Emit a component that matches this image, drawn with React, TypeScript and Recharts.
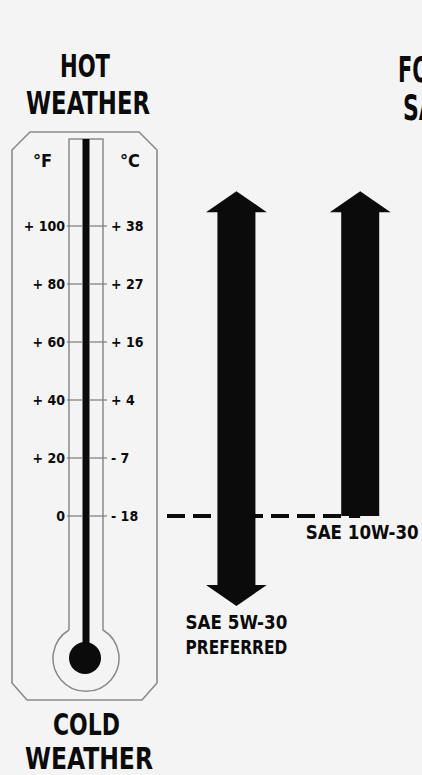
import React from "react";
import {
  ComposedChart,
  Bar,
  XAxis,
  YAxis,
  ReferenceLine,
  LabelList,
  Customized,
} from "recharts";

// oil grades, drawn as arrows over the temperature range they cover (°F)
const grades = ["SAE 5W-30", "SAE 10W-30"];
const gradePositions = [1, 2];
const lowTempsF = [-31, 0];
const highTempsF = [112, 112];
const pointsDown = [true, false];
const gradeNotes = ["PREFERRED", ""];

// thermometer scale
const fahrenheitTicks = [100, 80, 60, 40, 20, 0];
const celsiusLabels = ["+ 38", "+ 27", "+ 16", "+ 4", "- 7", "- 18"];
const cutoffTempF = 0;

const tempDomain = [-60, 140];
const xDomain = [0.44, 2.5];

const FONT =
  "'Liberation Sans Narrow', 'DejaVu Sans Condensed', 'Liberation Sans', Arial, sans-serif";
const INK = "#0b0b0b";
const FRAME = "#8a8a8a";

const data = grades.map((g, i) => ({
  grade: g,
  pos: gradePositions[i],
  range: [lowTempsF[i], highTempsF[i]],
  down: pointsDown[i],
  note: gradeNotes[i],
}));

function Arrow(props: any) {
  const { x, y, width, height, payload } = props;
  const top = Math.min(y, y + height);
  const bottom = Math.max(y, y + height);
  const cx = x + width / 2;
  const sw = width / 2;
  const hw = width * 0.8;
  const hl = 21;
  const pts: number[][] = [
    [cx, top],
    [cx + hw, top + hl],
    [cx + sw, top + hl],
  ];
  if (payload.down) {
    pts.push(
      [cx + sw, bottom - hl],
      [cx + hw, bottom - hl],
      [cx, bottom],
      [cx - hw, bottom - hl],
      [cx - sw, bottom - hl]
    );
  } else {
    pts.push([cx + sw, bottom], [cx - sw, bottom]);
  }
  pts.push([cx - sw, top + hl], [cx - hw, top + hl]);
  return <polygon points={pts.map((p) => p.join(",")).join(" ")} fill={INK} />;
}

const renderGradeLabel = (props: any) => {
  const { x, y, width, height, index } = props;
  const bottom = Math.max(y, y + height);
  const cx = x + width / 2 + (index === 1 ? 2 : 0);
  const lines = [grades[index], gradeNotes[index]].filter(Boolean);
  return (
    <g>
      {lines.map((t, k) => (
        <text
          key={t}
          x={cx}
          y={bottom + 23 + k * 25}
          textAnchor="middle"
          fontFamily={FONT}
          fontWeight="bold"
          fontSize={19}
          fill={INK}
          textLength={t.length * 11.3}
          lengthAdjust="spacingAndGlyphs"
        >
          {t}
        </text>
      ))}
    </g>
  );
};

const ThermoTick = (props: any) => {
  const { y, payload } = props;
  const f = payload.value;
  const i = fahrenheitTicks.indexOf(f);
  const fLabel = f === 0 ? "0" : `+ ${f}`;
  return (
    <g fontFamily={FONT} fontWeight="bold" fontSize={14} fill={INK}>
      <line x1={67} x2={83} y1={y} y2={y} stroke="#7a7a7a" strokeWidth={1.2} />
      <line x1={89} x2={107} y1={y} y2={y} stroke="#7a7a7a" strokeWidth={1.2} />
      <text x={65} y={y + 5} textAnchor="end">
        {fLabel}
      </text>
      <text x={111} y={y + 5} textAnchor="start">
        {celsiusLabels[i]}
      </text>
    </g>
  );
};

const Heading = ({ x, y, text, len, size = 32 }: any) => (
  <text
    x={x}
    y={y}
    textAnchor="middle"
    fontFamily={FONT}
    fontWeight="bold"
    fontSize={size}
    fill={INK}
    textLength={len}
    lengthAdjust="spacingAndGlyphs"
  >
    {text}
  </text>
);

const Thermometer = () => (
  <g>
    <Heading x={85} y={77} text="HOT" len={50} />
    <Heading x={88} y={114} text="WEATHER" len={124} />
    <Heading x={86.5} y={735} text="COLD" len={67} size={31} />
    <Heading x={89} y={769} text="WEATHER" len={128} size={31} />
    <text
      x={398}
      y={82}
      fontFamily={FONT}
      fontWeight="bold"
      fontSize={36}
      fill={INK}
      textLength={48}
      lengthAdjust="spacingAndGlyphs"
    >
      FOR
    </text>
    <text
      x={403}
      y={120}
      fontFamily={FONT}
      fontWeight="bold"
      fontSize={36}
      fill={INK}
      textLength={48}
      lengthAdjust="spacingAndGlyphs"
    >
      SAE
    </text>
    <polygon
      points="30,132 139,132 157,150 157,683 142,700 27,700 12,683 12,150"
      fill="none"
      stroke={FRAME}
      strokeWidth={1.6}
    />
    <path
      d="M69,630 L69,139 L103,139 L103,630 A33,33 0 1 1 69,630"
      fill="none"
      stroke={FRAME}
      strokeWidth={1.5}
    />
    <rect x={82.5} y={139} width={7} height={515} fill={INK} />
    <circle cx={85} cy={658} r={16} fill={INK} />
    <text x={33} y={167} fontFamily={FONT} fontWeight="bold" fontSize={18} fill={INK}>
      °F
    </text>
    <text x={120} y={167} fontFamily={FONT} fontWeight="bold" fontSize={18} fill={INK}>
      °C
    </text>
  </g>
);

export default function App() {
  return (
    <div
      style={{
        position: "absolute",
        left: 0,
        top: 0,
        width: 422,
        height: 775,
        background: "#f4f4f4",
        overflow: "hidden",
      }}
    >
      <ComposedChart
        width={422}
        height={775}
        data={data}
        margin={{ top: 110, right: 0, bottom: 85, left: 0 }}
      >
        <Customized component={Thermometer} />
        <XAxis
          type="number"
          dataKey="pos"
          domain={xDomain}
          allowDataOverflow
          hide
        />
        <YAxis
          type="number"
          domain={tempDomain}
          ticks={fahrenheitTicks}
          interval={0}
          width={167}
          axisLine={false}
          tickLine={false}
          allowDataOverflow
          tick={(p: any) => <ThermoTick {...p} />}
        />
        <ReferenceLine
          segment={[
            { x: xDomain[0], y: cutoffTempF },
            { x: gradePositions[1], y: cutoffTempF },
          ]}
          stroke={INK}
          strokeWidth={4}
          strokeDasharray="18 8"
          ifOverflow="visible"
        />
        <Bar
          dataKey="range"
          barSize={38}
          shape={<Arrow />}
          isAnimationActive={false}
        >
          <LabelList dataKey="grade" content={renderGradeLabel} />
        </Bar>
      </ComposedChart>
    </div>
  );
}
